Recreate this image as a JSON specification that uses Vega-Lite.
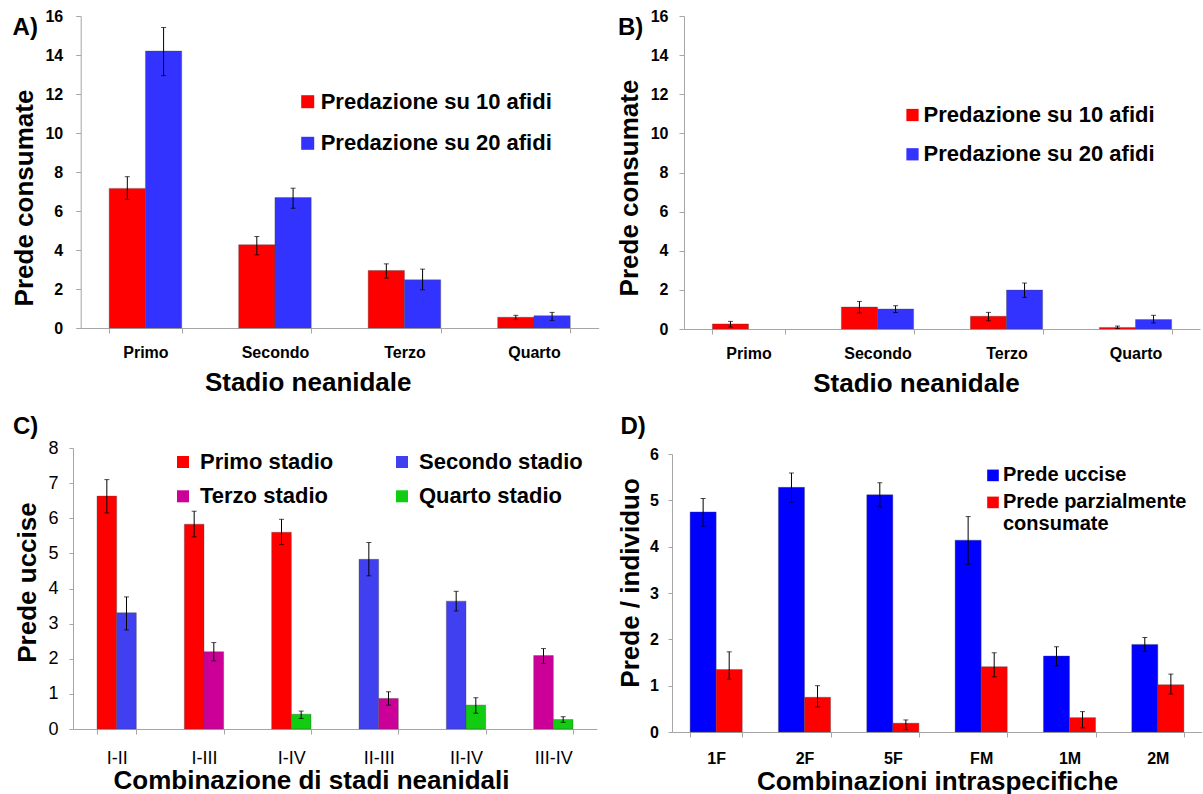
{
  "$schema": "https://vega.github.io/schema/vega-lite/v6.json",
  "padding": {"left": 11, "top": 8, "right": 0, "bottom": 0},
  "columns": 2,
  "align": "none",
  "spacing": {"row": 18, "column": 12},
  "background": "white",
  "resolve": {"scale": {"x": "independent", "y": "independent", "color": "independent", "xOffset": "independent"}, "axis": {"x": "independent", "y": "independent"}, "legend": {"color": "independent"}},
  "config": {
    "view": {"stroke": null},
    "font": "Liberation Sans",
    "axis": {"grid": false, "domainColor": "#A6A6A6", "tickColor": "#A6A6A6", "labelColor": "#000000", "titleColor": "#000000", "labelOverlap": false}
  },
  "concat": [
    {
      "width": 525.7, "height": 312,
      "title": {"text": "A)", "anchor": "start", "frame": "group", "dx": -60.4, "dy": 51, "offset": 0, "baseline": "alphabetic", "fontSize": 24, "fontWeight": "bold", "color": "#000000"},
      "data": {"values": [
        {"stage": "Primo", "series": "Predazione su 10 afidi", "value": 7.16, "lo": 6.6, "hi": 7.76},
        {"stage": "Primo", "series": "Predazione su 20 afidi", "value": 14.2, "lo": 12.94, "hi": 15.41},
        {"stage": "Secondo", "series": "Predazione su 10 afidi", "value": 4.27, "lo": 3.75, "hi": 4.69},
        {"stage": "Secondo", "series": "Predazione su 20 afidi", "value": 6.69, "lo": 6.14, "hi": 7.17},
        {"stage": "Terzo", "series": "Predazione su 10 afidi", "value": 2.95, "lo": 2.56, "hi": 3.29},
        {"stage": "Terzo", "series": "Predazione su 20 afidi", "value": 2.47, "lo": 1.96, "hi": 3.02},
        {"stage": "Quarto", "series": "Predazione su 10 afidi", "value": 0.55, "lo": 0.43, "hi": 0.65},
        {"stage": "Quarto", "series": "Predazione su 20 afidi", "value": 0.63, "lo": 0.39, "hi": 0.8}
      ]},
      "encoding": {
        "x": {"field": "stage", "type": "nominal", "sort": ["Primo", "Secondo", "Terzo", "Quarto"], "title": "Stadio neanidale",
          "scale": {"paddingInner": 0.44, "paddingOuter": 0.22, "range": [7.7, 525.7]},
          "axis": {"labelAngle": 0, "labelFontSize": 16, "labelFontWeight": "bold", "labelBaseline": "alphabetic", "labelPadding": 24, "tickSize": 5, "tickBand": "extent", "titleFontSize": 26, "titleFontWeight": "bold", "titleBaseline": "alphabetic", "titleX": 234.7, "titleY": 62}},
        "xOffset": {"field": "series", "type": "nominal", "sort": ["Predazione su 10 afidi", "Predazione su 20 afidi"], "scale": {"paddingInner": 0, "paddingOuter": 0}}
      },
      "layer": [
        {"mark": {"type": "bar", "stroke": "#444444", "strokeWidth": 0.6, "strokeOpacity": 0.6},
         "encoding": {
           "y": {"field": "value", "type": "quantitative", "title": "Prede consumate", "scale": {"domain": [0, 16], "nice": false},
             "axis": {"offset": -7.7, "values": [0, 2, 4, 6, 8, 10, 12, 14, 16], "labelFontSize": 16, "labelFontWeight": "bold", "labelPadding": 13, "tickSize": 5, "titleFontSize": 26, "titleFontWeight": "bold", "titleBaseline": "alphabetic", "titleX": -48, "titleY": 181.5}},
           "color": {"field": "series", "type": "nominal", "scale": {"domain": ["Predazione su 10 afidi", "Predazione su 20 afidi"], "range": ["#FF0000", "#3333FF"]},
             "legend": {"orient": "none", "legendX": 223.7, "legendY": 74.7, "title": null, "symbolType": "square", "symbolSize": 169, "symbolStrokeWidth": 0, "labelFontSize": 22, "labelFontWeight": "bold", "labelLimit": 400, "rowPadding": 19.6, "labelOffset": 2, "padding": 0}}
         }},
        {"mark": {"type": "rule", "color": "#000000", "strokeWidth": 1},
         "encoding": {"y": {"field": "lo", "type": "quantitative", "title": "Prede consumate", "axis": {"offset": -7.7, "values": [0, 2, 4, 6, 8, 10, 12, 14, 16], "labelFontSize": 16, "labelFontWeight": "bold", "labelPadding": 13, "tickSize": 5, "titleFontSize": 26, "titleFontWeight": "bold", "titleBaseline": "alphabetic", "titleX": -48, "titleY": 181.5}}, "y2": {"field": "hi"}}},
        {"mark": {"type": "tick", "color": "#000000", "thickness": 1, "size": 5, "orient": "horizontal"},
         "encoding": {"y": {"field": "lo", "type": "quantitative", "title": "Prede consumate", "axis": {"offset": -7.7, "values": [0, 2, 4, 6, 8, 10, 12, 14, 16], "labelFontSize": 16, "labelFontWeight": "bold", "labelPadding": 13, "tickSize": 5, "titleFontSize": 26, "titleFontWeight": "bold", "titleBaseline": "alphabetic", "titleX": -48, "titleY": 181.5}}}},
        {"mark": {"type": "tick", "color": "#000000", "thickness": 1, "size": 5, "orient": "horizontal"},
         "encoding": {"y": {"field": "hi", "type": "quantitative", "title": "Prede consumate", "axis": {"offset": -7.7, "values": [0, 2, 4, 6, 8, 10, 12, 14, 16], "labelFontSize": 16, "labelFontWeight": "bold", "labelPadding": 13, "tickSize": 5, "titleFontSize": 26, "titleFontWeight": "bold", "titleBaseline": "alphabetic", "titleX": -48, "titleY": 181.5}}}}
      ]
    },
    {
      "width": 516, "height": 313,
      "title": {"text": "B)", "anchor": "start", "frame": "group", "dx": -66, "dy": 50.6, "offset": 0, "baseline": "alphabetic", "fontSize": 24, "fontWeight": "bold", "color": "#000000"},
      "data": {"values": [
        {"stage": "Primo", "series": "Predazione su 10 afidi", "value": 0.26, "lo": 0.1, "hi": 0.39},
        {"stage": "Primo", "series": "Predazione su 20 afidi", "value": null, "lo": null, "hi": null},
        {"stage": "Secondo", "series": "Predazione su 10 afidi", "value": 1.12, "lo": 0.82, "hi": 1.41},
        {"stage": "Secondo", "series": "Predazione su 20 afidi", "value": 1.02, "lo": 0.84, "hi": 1.19},
        {"stage": "Terzo", "series": "Predazione su 10 afidi", "value": 0.65, "lo": 0.42, "hi": 0.85},
        {"stage": "Terzo", "series": "Predazione su 20 afidi", "value": 1.99, "lo": 1.62, "hi": 2.35},
        {"stage": "Quarto", "series": "Predazione su 10 afidi", "value": 0.08, "lo": 0.03, "hi": 0.15},
        {"stage": "Quarto", "series": "Predazione su 20 afidi", "value": 0.48, "lo": 0.31, "hi": 0.7}
      ]},
      "encoding": {
        "x": {"field": "stage", "type": "nominal", "sort": ["Primo", "Secondo", "Terzo", "Quarto"], "title": "Stadio neanidale",
          "scale": {"paddingInner": 0.44, "paddingOuter": 0.22},
          "axis": {"labelAngle": 0, "labelFontSize": 16, "labelFontWeight": "bold", "labelBaseline": "alphabetic", "labelPadding": 24, "tickSize": 5, "tickBand": "extent", "titleFontSize": 26, "titleFontWeight": "bold", "titleBaseline": "alphabetic", "titleX": 232, "titleY": 62}},
        "xOffset": {"field": "series", "type": "nominal", "sort": ["Predazione su 10 afidi", "Predazione su 20 afidi"], "scale": {"paddingInner": 0, "paddingOuter": 0}}
      },
      "layer": [
        {"mark": {"type": "bar", "stroke": "#444444", "strokeWidth": 0.6, "strokeOpacity": 0.6},
         "encoding": {
           "y": {"field": "value", "type": "quantitative", "title": "Prede consumate", "scale": {"domain": [0, 16], "nice": false},
             "axis": {"values": [0, 2, 4, 6, 8, 10, 12, 14, 16], "labelFontSize": 16, "labelFontWeight": "bold", "labelPadding": 11, "tickSize": 5, "titleFontSize": 26, "titleFontWeight": "bold", "titleBaseline": "alphabetic", "titleX": -47, "titleY": 171.5}},
           "color": {"field": "series", "type": "nominal", "scale": {"domain": ["Predazione su 10 afidi", "Predazione su 20 afidi"], "range": ["#FF0000", "#3333FF"]},
             "legend": {"orient": "none", "legendX": 217.5, "legendY": 88, "title": null, "symbolType": "square", "symbolSize": 150, "symbolStrokeWidth": 0, "labelFontSize": 22, "labelFontWeight": "bold", "labelLimit": 400, "rowPadding": 17.3, "labelOffset": 0, "padding": 0}}
         }},
        {"mark": {"type": "rule", "color": "#000000", "strokeWidth": 1},
         "encoding": {"y": {"field": "lo", "type": "quantitative", "title": "Prede consumate", "axis": {"values": [0, 2, 4, 6, 8, 10, 12, 14, 16], "labelFontSize": 16, "labelFontWeight": "bold", "labelPadding": 11, "tickSize": 5, "titleFontSize": 26, "titleFontWeight": "bold", "titleBaseline": "alphabetic", "titleX": -47, "titleY": 171.5}}, "y2": {"field": "hi"}}},
        {"mark": {"type": "tick", "color": "#000000", "thickness": 1, "size": 5, "orient": "horizontal"},
         "encoding": {"y": {"field": "lo", "type": "quantitative", "title": "Prede consumate", "axis": {"values": [0, 2, 4, 6, 8, 10, 12, 14, 16], "labelFontSize": 16, "labelFontWeight": "bold", "labelPadding": 11, "tickSize": 5, "titleFontSize": 26, "titleFontWeight": "bold", "titleBaseline": "alphabetic", "titleX": -47, "titleY": 171.5}}}},
        {"mark": {"type": "tick", "color": "#000000", "thickness": 1, "size": 5, "orient": "horizontal"},
         "encoding": {"y": {"field": "hi", "type": "quantitative", "title": "Prede consumate", "axis": {"values": [0, 2, 4, 6, 8, 10, 12, 14, 16], "labelFontSize": 16, "labelFontWeight": "bold", "labelPadding": 11, "tickSize": 5, "titleFontSize": 26, "titleFontWeight": "bold", "titleBaseline": "alphabetic", "titleX": -47, "titleY": 171.5}}}}
      ]
    },
    {
      "width": 531, "height": 281,
      "title": {"text": "C)", "anchor": "start", "frame": "group", "dx": -60, "dy": 18.9, "offset": 0, "baseline": "alphabetic", "fontSize": 24, "fontWeight": "bold", "color": "#000000"},
      "data": {"values": [
        {"combo": "I-II", "series": "Primo stadio", "pos": 1, "value": 6.63, "lo": 6.15, "hi": 7.1},
        {"combo": "I-II", "series": "Secondo stadio", "pos": 2, "value": 3.31, "lo": 2.82, "hi": 3.76},
        {"combo": "I-III", "series": "Primo stadio", "pos": 1, "value": 5.83, "lo": 5.47, "hi": 6.2},
        {"combo": "I-III", "series": "Terzo stadio", "pos": 2, "value": 2.2, "lo": 1.94, "hi": 2.46},
        {"combo": "I-IV", "series": "Primo stadio", "pos": 1, "value": 5.6, "lo": 5.25, "hi": 5.97},
        {"combo": "I-IV", "series": "Quarto stadio", "pos": 2, "value": 0.42, "lo": 0.3, "hi": 0.51},
        {"combo": "II-III", "series": "Secondo stadio", "pos": 1, "value": 4.83, "lo": 4.36, "hi": 5.31},
        {"combo": "II-III", "series": "Terzo stadio", "pos": 2, "value": 0.87, "lo": 0.68, "hi": 1.06},
        {"combo": "II-IV", "series": "Secondo stadio", "pos": 1, "value": 3.64, "lo": 3.36, "hi": 3.92},
        {"combo": "II-IV", "series": "Quarto stadio", "pos": 2, "value": 0.68, "lo": 0.45, "hi": 0.89},
        {"combo": "III-IV", "series": "Terzo stadio", "pos": 1, "value": 2.09, "lo": 1.87, "hi": 2.29},
        {"combo": "III-IV", "series": "Quarto stadio", "pos": 2, "value": 0.27, "lo": 0.19, "hi": 0.35}
      ]},
      "encoding": {
        "x": {"field": "combo", "type": "nominal", "sort": ["I-II", "I-III", "I-IV", "II-III", "II-IV", "III-IV"], "title": "Combinazione di stadi neanidali",
          "scale": {"paddingInner": 0.55, "paddingOuter": 0.275, "range": [0, 524]},
          "axis": {"labelAngle": 0, "labelFontSize": 18, "labelFontWeight": "normal", "labelBaseline": "alphabetic", "labelPadding": 29, "tickSize": 5, "tickBand": "extent", "titleFontSize": 26, "titleFontWeight": "bold", "titleBaseline": "alphabetic", "titleX": 238, "titleY": 59}},
        "xOffset": {"field": "pos", "type": "nominal", "scale": {"paddingInner": 0, "paddingOuter": 0}}
      },
      "layer": [
        {"mark": {"type": "bar", "stroke": "#444444", "strokeWidth": 0.6, "strokeOpacity": 0.6},
         "encoding": {
           "y": {"field": "value", "type": "quantitative", "title": "Prede uccise", "scale": {"domain": [0, 8], "nice": false},
             "axis": {"values": [0, 1, 2, 3, 4, 5, 6, 7, 8], "labelFontSize": 18, "labelFontWeight": "normal", "labelPadding": 11, "tickSize": 4, "titleFontSize": 26, "titleFontWeight": "bold", "titleBaseline": "alphabetic", "titleX": -38, "titleY": 134}},
           "color": {"field": "series", "type": "nominal", "scale": {"domain": ["Primo stadio", "Secondo stadio", "Terzo stadio", "Quarto stadio"], "range": ["#FF0000", "#4040F0", "#CC0099", "#11CC11"]},
             "legend": {"orient": "none", "legendX": 99, "legendY": 3, "title": null, "direction": "horizontal", "columns": 2, "columnPadding": 57, "symbolType": "square", "symbolSize": 144, "symbolStrokeWidth": 0, "labelFontSize": 22, "labelFontWeight": "bold", "labelLimit": 400, "rowPadding": 12.3, "labelOffset": 6, "padding": 0}}
         }},
        {"mark": {"type": "rule", "color": "#000000", "strokeWidth": 1},
         "encoding": {"y": {"field": "lo", "type": "quantitative", "title": "Prede uccise", "axis": {"values": [0, 1, 2, 3, 4, 5, 6, 7, 8], "labelFontSize": 18, "labelFontWeight": "normal", "labelPadding": 11, "tickSize": 4, "titleFontSize": 26, "titleFontWeight": "bold", "titleBaseline": "alphabetic", "titleX": -38, "titleY": 134}}, "y2": {"field": "hi"}}},
        {"mark": {"type": "tick", "color": "#000000", "thickness": 1, "size": 5, "orient": "horizontal"},
         "encoding": {"y": {"field": "lo", "type": "quantitative", "title": "Prede uccise", "axis": {"values": [0, 1, 2, 3, 4, 5, 6, 7, 8], "labelFontSize": 18, "labelFontWeight": "normal", "labelPadding": 11, "tickSize": 4, "titleFontSize": 26, "titleFontWeight": "bold", "titleBaseline": "alphabetic", "titleX": -38, "titleY": 134}}}},
        {"mark": {"type": "tick", "color": "#000000", "thickness": 1, "size": 5, "orient": "horizontal"},
         "encoding": {"y": {"field": "hi", "type": "quantitative", "title": "Prede uccise", "axis": {"values": [0, 1, 2, 3, 4, 5, 6, 7, 8], "labelFontSize": 18, "labelFontWeight": "normal", "labelPadding": 11, "tickSize": 4, "titleFontSize": 26, "titleFontWeight": "bold", "titleBaseline": "alphabetic", "titleX": -38, "titleY": 134}}}}
      ]
    },
    {
      "width": 530, "height": 278,
      "title": {"text": "D)", "anchor": "start", "frame": "group", "dx": -51.5, "dy": 11.8, "offset": 0, "baseline": "alphabetic", "fontSize": 24, "fontWeight": "bold", "color": "#000000"},
      "data": {"values": [
        {"combo": "1F", "series": "Prede uccise", "value": 4.75, "lo": 4.44, "hi": 5.04},
        {"combo": "1F", "series": "Prede parzialmente consumate", "value": 1.35, "lo": 1.14, "hi": 1.73},
        {"combo": "2F", "series": "Prede uccise", "value": 5.28, "lo": 4.96, "hi": 5.59},
        {"combo": "2F", "series": "Prede parzialmente consumate", "value": 0.75, "lo": 0.54, "hi": 1.0},
        {"combo": "5F", "series": "Prede uccise", "value": 5.12, "lo": 4.86, "hi": 5.38},
        {"combo": "5F", "series": "Prede parzialmente consumate", "value": 0.19, "lo": 0.05, "hi": 0.26},
        {"combo": "FM", "series": "Prede uccise", "value": 4.14, "lo": 3.62, "hi": 4.65},
        {"combo": "FM", "series": "Prede parzialmente consumate", "value": 1.41, "lo": 1.19, "hi": 1.71},
        {"combo": "1M", "series": "Prede uccise", "value": 1.64, "lo": 1.43, "hi": 1.84},
        {"combo": "1M", "series": "Prede parzialmente consumate", "value": 0.31, "lo": 0.09, "hi": 0.44},
        {"combo": "2M", "series": "Prede uccise", "value": 1.89, "lo": 1.74, "hi": 2.04},
        {"combo": "2M", "series": "Prede parzialmente consumate", "value": 1.02, "lo": 0.82, "hi": 1.25}
      ]},
      "encoding": {
        "x": {"field": "combo", "type": "nominal", "sort": ["1F", "2F", "5F", "FM", "1M", "2M"], "title": "Combinazioni intraspecifiche",
          "scale": {"paddingInner": 0.41, "paddingOuter": 0.205},
          "axis": {"labelAngle": 0, "labelFontSize": 16, "labelFontWeight": "bold", "labelBaseline": "alphabetic", "labelPadding": 26, "tickSize": 5, "tickBand": "extent", "titleFontSize": 26, "titleFontWeight": "bold", "titleBaseline": "alphabetic", "titleX": 265, "titleY": 57}},
        "xOffset": {"field": "series", "type": "nominal", "sort": ["Prede uccise", "Prede parzialmente consumate"], "scale": {"paddingInner": 0, "paddingOuter": 0}}
      },
      "layer": [
        {"mark": {"type": "bar", "stroke": "#444444", "strokeWidth": 0.6, "strokeOpacity": 0.6},
         "encoding": {
           "y": {"field": "value", "type": "quantitative", "title": "Prede / individuo", "scale": {"domain": [0, 6], "nice": false},
             "axis": {"values": [0, 1, 2, 3, 4, 5, 6], "labelFontSize": 16, "labelFontWeight": "bold", "labelPadding": 9.5, "tickSize": 4, "titleFontSize": 26, "titleFontWeight": "bold", "titleBaseline": "alphabetic", "titleX": -34, "titleY": 128.4}},
           "color": {"field": "series", "type": "nominal", "scale": {"domain": ["Prede uccise", "Prede parzialmente consumate"], "range": ["#0000FF", "#FF0000"]},
             "legend": {"orient": "none", "legendX": 311, "legendY": 11.4, "title": null, "symbolType": "square", "symbolSize": 135, "symbolStrokeWidth": 0, "labelFontSize": 20, "labelFontWeight": "bold", "labelLimit": 400, "rowPadding": 7, "labelOffset": 0, "padding": 0,
               "labelExpr": "datum.label == 'Prede parzialmente consumate' ? ['Prede parzialmente', 'consumate'] : datum.label"}}
         }},
        {"mark": {"type": "rule", "color": "#000000", "strokeWidth": 1},
         "encoding": {"y": {"field": "lo", "type": "quantitative", "title": "Prede / individuo", "axis": {"values": [0, 1, 2, 3, 4, 5, 6], "labelFontSize": 16, "labelFontWeight": "bold", "labelPadding": 9.5, "tickSize": 4, "titleFontSize": 26, "titleFontWeight": "bold", "titleBaseline": "alphabetic", "titleX": -34, "titleY": 128.4}}, "y2": {"field": "hi"}}},
        {"mark": {"type": "tick", "color": "#000000", "thickness": 1, "size": 5, "orient": "horizontal"},
         "encoding": {"y": {"field": "lo", "type": "quantitative", "title": "Prede / individuo", "axis": {"values": [0, 1, 2, 3, 4, 5, 6], "labelFontSize": 16, "labelFontWeight": "bold", "labelPadding": 9.5, "tickSize": 4, "titleFontSize": 26, "titleFontWeight": "bold", "titleBaseline": "alphabetic", "titleX": -34, "titleY": 128.4}}}},
        {"mark": {"type": "tick", "color": "#000000", "thickness": 1, "size": 5, "orient": "horizontal"},
         "encoding": {"y": {"field": "hi", "type": "quantitative", "title": "Prede / individuo", "axis": {"values": [0, 1, 2, 3, 4, 5, 6], "labelFontSize": 16, "labelFontWeight": "bold", "labelPadding": 9.5, "tickSize": 4, "titleFontSize": 26, "titleFontWeight": "bold", "titleBaseline": "alphabetic", "titleX": -34, "titleY": 128.4}}}}
      ]
    }
  ]
}
